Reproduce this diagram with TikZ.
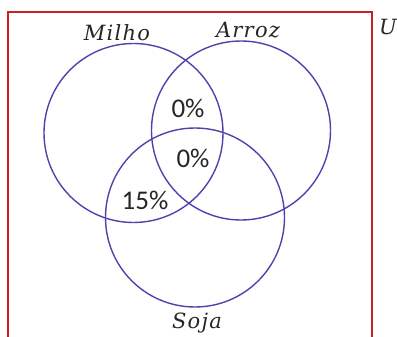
\documentclass[tikz,border=0pt]{standalone}
\usepackage{fontspec}
\setmainfont{Carlito}
\newfontfamily\labelfont[LetterSpace=6]{DejaVu Serif}
\usepackage{tikz}
\usepackage{xcolor}
\usetikzlibrary{positioning}
\definecolor{vennblue}{RGB}{78,66,172}
\definecolor{boxred}{RGB}{204,32,36}

\begin{document}
\begin{tikzpicture}[x=1pt,y=-1pt]
		\useasboundingbox (0,0) rectangle (397,337);
		\tikzset{set/.style={draw=vennblue,circle,line width=1.4pt,minimum size=179pt,inner sep=0pt},
			setname/.style={font=\labelfont\itshape\fontsize{21}{25}\selectfont,text=black!85},
			pct/.style={font=\fontsize{27}{31}\selectfont,text=black!85}}
		\draw[boxred,line width=1.5pt] (8,337) |- (372,12) -- (372,337);
		\node[set] (milho) at (133.5,133) {};
		\node[set] (arroz) at (241,130.5) {};
		\node[set] (soja) at (195,217.5) {};
		\node[setname] (lmilho) at (117,33) {Milho};
		\node[setname] (larroz) at (248,30) {Arroz};
		\node[setname] (lsoja) at (197,323) {Soja};
		\node[setname] (luniv) at (388,27) {U};
		\node[pct] (ma) at (188,108) {0\%};
		\node[pct] (mas) at (193,158) {0\%};
		\node[pct] (ms) at (145,200) {15\%};
\end{tikzpicture}
\end{document}
